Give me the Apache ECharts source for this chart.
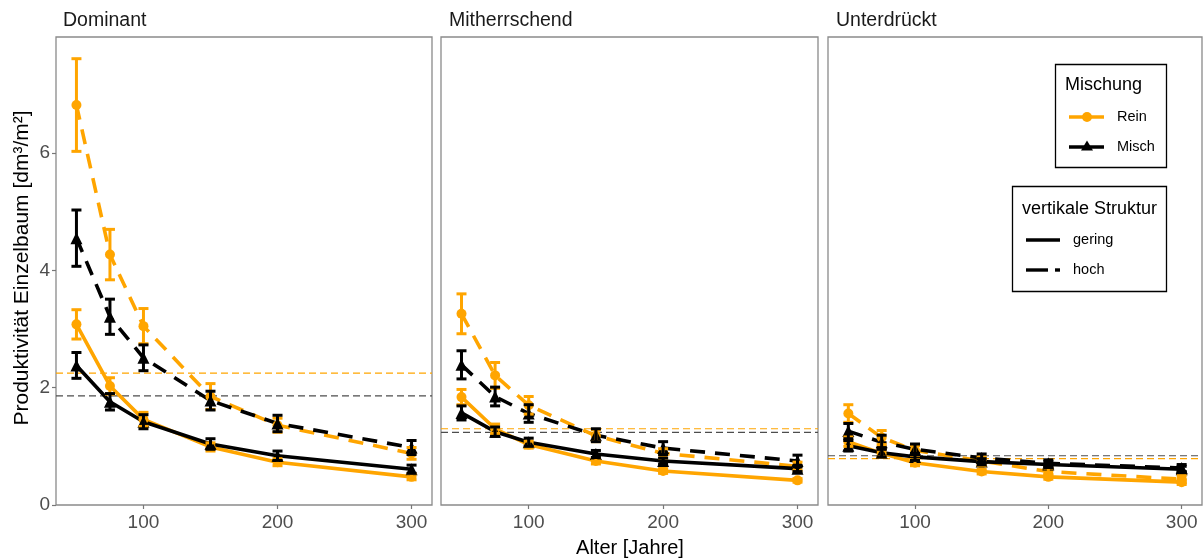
<!DOCTYPE html>
<html>
<head>
<meta charset="utf-8">
<script src="https://cdn.jsdelivr.net/npm/echarts@6/dist/echarts.min.js"></script>
<style>
html,body{margin:0;padding:0;background:#fff;}
#c{width:1203px;height:560px;}
</style>
</head>
<body>
<div id="c"></div>
<script>
// ---------- data ----------
const ages = [50, 75, 100, 150, 200, 300];
const panelNames = ['Dominant', 'Mitherrschend', 'Unterdrückt'];
const xTicks = [100, 200, 300];
const yTicks = [0, 2, 4, 6];

// Dominant
const domReinGering   = [3.08, 2.03, 1.46, 0.99, 0.73, 0.48];
const domReinGeringSE = [0.25, 0.14, 0.12, 0.07, 0.06, 0.05];
const domReinHoch     = [6.82, 4.27, 3.05, 1.85, 1.36, 0.88];
const domReinHochSE   = [0.79, 0.43, 0.30, 0.22, 0.12, 0.10];
const domMischGering   = [2.38, 1.76, 1.42, 1.04, 0.84, 0.61];
const domMischGeringSE = [0.22, 0.14, 0.12, 0.09, 0.08, 0.07];
const domMischHoch     = [4.55, 3.21, 2.51, 1.78, 1.39, 0.98];
const domMischHochSE   = [0.48, 0.30, 0.22, 0.16, 0.14, 0.12];

// Mitherrschend
const mitReinGering   = [1.84, 1.30, 1.03, 0.75, 0.58, 0.42];
const mitReinGeringSE = [0.13, 0.08, 0.06, 0.05, 0.04, 0.03];
const mitReinHoch     = [3.26, 2.21, 1.70, 1.18, 0.88, 0.66];
const mitReinHochSE   = [0.34, 0.22, 0.15, 0.10, 0.08, 0.07];
const mitMischGering   = [1.57, 1.25, 1.07, 0.87, 0.75, 0.62];
const mitMischGeringSE = [0.12, 0.08, 0.07, 0.06, 0.05, 0.05];
const mitMischHoch     = [2.39, 1.85, 1.56, 1.19, 0.97, 0.75];
const mitMischHochSE   = [0.24, 0.16, 0.15, 0.11, 0.11, 0.10];

// Unterdrückt
const untReinGering   = [1.08, 0.88, 0.72, 0.57, 0.48, 0.39];
const untReinGeringSE = [0.08, 0.06, 0.05, 0.04, 0.04, 0.04];
const untReinHoch     = [1.56, 1.15, 0.93, 0.75, 0.57, 0.44];
const untReinHochSE   = [0.15, 0.12, 0.08, 0.07, 0.06, 0.06];
const untMischGering   = [1.01, 0.89, 0.82, 0.74, 0.69, 0.61];
const untMischGeringSE = [0.09, 0.07, 0.06, 0.05, 0.05, 0.05];
const untMischHoch     = [1.26, 1.07, 0.95, 0.80, 0.71, 0.63];
const untMischHochSE   = [0.13, 0.12, 0.09, 0.07, 0.06, 0.06];

// horizontal reference lines (per panel)
const refRein  = [2.25, 1.30, 0.79];
const refMisch = [1.86, 1.24, 0.84];

// ---------- layout / style ----------
const X_MIN = 34.75, X_MAX = 315.25, Y_MIN = 0, Y_MAX = 7.98;
const ORANGE = '#FFA500', BLACK = '#000000';
const FONT = '"Liberation Sans", Arial, sans-serif';
const DASH = [15, 10];

const panels = [
  {rg: domReinGering, rgSE: domReinGeringSE, rh: domReinHoch, rhSE: domReinHochSE,
   mg: domMischGering, mgSE: domMischGeringSE, mh: domMischHoch, mhSE: domMischHochSE},
  {rg: mitReinGering, rgSE: mitReinGeringSE, rh: mitReinHoch, rhSE: mitReinHochSE,
   mg: mitMischGering, mgSE: mitMischGeringSE, mh: mitMischHoch, mhSE: mitMischHochSE},
  {rg: untReinGering, rgSE: untReinGeringSE, rh: untReinHoch, rhSE: untReinHochSE,
   mg: untMischGering, mgSE: untMischGeringSE, mh: untMischHoch, mhSE: untMischHochSE}
];

const gridBoxes = [
  {left: 56, width: 376},
  {left: 441, width: 377},
  {left: 828, width: 374}
];

const grids = [], xAxes = [], yAxes = [], series = [];

gridBoxes.forEach((g, i) => {
  grids.push({left: g.left, width: g.width, top: 37, height: 468, show: true,
    borderColor: '#8a8a8a', borderWidth: 1.3, backgroundColor: '#fff', containLabel: false});
  xAxes.push({gridIndex: i, type: 'value', min: X_MIN, max: X_MAX,
    axisLine: {show: false}, splitLine: {show: false},
    axisTick: {show: true, length: 4, lineStyle: {color: '#777', width: 1.2}, customValues: xTicks},
    axisLabel: {customValues: xTicks, color: '#4d4d4d', fontSize: 19, margin: 8, fontFamily: FONT}});
  yAxes.push({gridIndex: i, type: 'value', min: Y_MIN, max: Y_MAX,
    axisLine: {show: false}, splitLine: {show: false},
    axisTick: {show: i === 0, length: 4, lineStyle: {color: '#777', width: 1.2}, customValues: yTicks},
    axisLabel: {show: i === 0, customValues: yTicks, color: '#4d4d4d', fontSize: 19, margin: 6, fontFamily: FONT}});
});

function refLine(i, val, color) {
  return {type: 'line', xAxisIndex: i, yAxisIndex: i, z: 1, silent: true,
    symbol: 'none', data: [[X_MIN, val], [X_MAX, val]],
    lineStyle: {color: color, width: 1.2, type: [7, 4]}, animation: false};
}
function lineSeries(i, vals, color, dashed, sym) {
  return {type: 'line', xAxisIndex: i, yAxisIndex: i, z: 2, silent: true,
    data: ages.map((a, k) => [a, vals[k]]),
    symbol: sym, symbolSize: sym === 'triangle' ? 12 : 10, showSymbol: true,
    itemStyle: {color: color, borderWidth: 0},
    lineStyle: {color: color, width: 3.6, type: dashed ? DASH : 'solid'},
    animation: false};
}
function errSeries(i, vals, se, color) {
  return {type: 'custom', xAxisIndex: i, yAxisIndex: i, z: 3, silent: true,
    data: ages.map((a, k) => [a, vals[k] - se[k], vals[k] + se[k]]),
    encode: {x: 0, y: [1, 2]},
    renderItem: function (params, api) {
      const x = api.value(0);
      const a = api.coord([x, api.value(1)]);
      const b = api.coord([x, api.value(2)]);
      const hw = 5;
      const st = {stroke: color, lineWidth: 3, fill: null};
      return {type: 'group', children: [
        {type: 'line', shape: {x1: a[0], y1: a[1], x2: b[0], y2: b[1]}, style: st},
        {type: 'line', shape: {x1: a[0] - hw, y1: a[1], x2: a[0] + hw, y2: a[1]}, style: st},
        {type: 'line', shape: {x1: b[0] - hw, y1: b[1], x2: b[0] + hw, y2: b[1]}, style: st}
      ]};
    },
    animation: false};
}

panels.forEach((p, i) => {
  series.push(refLine(i, refRein[i], ORANGE));
  series.push(refLine(i, refMisch[i], '#4d4d4d'));
  series.push(lineSeries(i, p.rg, ORANGE, false, 'circle'));
  series.push(lineSeries(i, p.rh, ORANGE, true, 'circle'));
  series.push(lineSeries(i, p.mg, BLACK, false, 'triangle'));
  series.push(lineSeries(i, p.mh, BLACK, true, 'triangle'));
  series.push(errSeries(i, p.rg, p.rgSE, ORANGE));
  series.push(errSeries(i, p.rh, p.rhSE, ORANGE));
  series.push(errSeries(i, p.mg, p.mgSE, BLACK));
  series.push(errSeries(i, p.mh, p.mhSE, BLACK));
});

// ---------- text & legend graphics ----------
const graphics = [];
const stripX = [63, 449, 836];
panelNames.forEach((n, i) => {
  graphics.push({type: 'text', left: stripX[i], top: 11,
    style: {text: n, font: '19.5px ' + FONT, fill: '#1a1a1a'}});
});
graphics.push({type: 'text', x: 630, y: 548,
  style: {text: 'Alter [Jahre]', font: '20px ' + FONT, fill: '#000', align: 'center', verticalAlign: 'middle'}});
graphics.push({type: 'text', x: 22, y: 268, rotation: Math.PI / 2,
  style: {text: 'Produktivität Einzelbaum [dm³/m²]', font: '21px ' + FONT, fill: '#000', align: 'center', verticalAlign: 'middle'}});

// legend 1: Mischung
graphics.push({type: 'rect', shape: {x: 1055.5, y: 64.5, width: 111, height: 103},
  style: {fill: '#fff', stroke: '#000', lineWidth: 1.3}, z: 10});
graphics.push({type: 'text', x: 1065, y: 85, z: 11,
  style: {text: 'Mischung', font: '18px ' + FONT, fill: '#000', verticalAlign: 'middle'}});
graphics.push({type: 'line', shape: {x1: 1069, y1: 117, x2: 1104, y2: 117}, z: 11,
  style: {stroke: ORANGE, lineWidth: 3.4}});
graphics.push({type: 'circle', shape: {cx: 1087, cy: 117, r: 5}, z: 11, style: {fill: ORANGE}});
graphics.push({type: 'text', x: 1117, y: 117, z: 11,
  style: {text: 'Rein', font: '14.5px ' + FONT, fill: '#000', verticalAlign: 'middle'}});
graphics.push({type: 'line', shape: {x1: 1069, y1: 147, x2: 1104, y2: 147}, z: 11,
  style: {stroke: BLACK, lineWidth: 3.4}});
graphics.push({type: 'polygon', shape: {points: [[1087, 140.5], [1093, 150.5], [1081, 150.5]]}, z: 11, style: {fill: BLACK}});
graphics.push({type: 'text', x: 1117, y: 147, z: 11,
  style: {text: 'Misch', font: '14.5px ' + FONT, fill: '#000', verticalAlign: 'middle'}});

// legend 2: vertikale Struktur
graphics.push({type: 'rect', shape: {x: 1012.5, y: 186.5, width: 154, height: 105},
  style: {fill: '#fff', stroke: '#000', lineWidth: 1.3}, z: 10});
graphics.push({type: 'text', x: 1022, y: 209, z: 11,
  style: {text: 'vertikale Struktur', font: '18px ' + FONT, fill: '#000', verticalAlign: 'middle'}});
graphics.push({type: 'line', shape: {x1: 1026, y1: 240, x2: 1060, y2: 240}, z: 11,
  style: {stroke: BLACK, lineWidth: 3.4}});
graphics.push({type: 'text', x: 1073, y: 240, z: 11,
  style: {text: 'gering', font: '14.5px ' + FONT, fill: '#000', verticalAlign: 'middle'}});
graphics.push({type: 'line', shape: {x1: 1026, y1: 270, x2: 1048, y2: 270}, z: 11,
  style: {stroke: BLACK, lineWidth: 3.4}});
graphics.push({type: 'line', shape: {x1: 1055, y1: 270, x2: 1060, y2: 270}, z: 11,
  style: {stroke: BLACK, lineWidth: 3.4}});
graphics.push({type: 'text', x: 1073, y: 270, z: 11,
  style: {text: 'hoch', font: '14.5px ' + FONT, fill: '#000', verticalAlign: 'middle'}});

const chart = echarts.init(document.getElementById('c'), null, {renderer: 'canvas'});
chart.setOption({
  backgroundColor: '#fff',
  animation: false,
  grid: grids,
  xAxis: xAxes,
  yAxis: yAxes,
  series: series,
  graphic: graphics
});
</script>
</body>
</html>
